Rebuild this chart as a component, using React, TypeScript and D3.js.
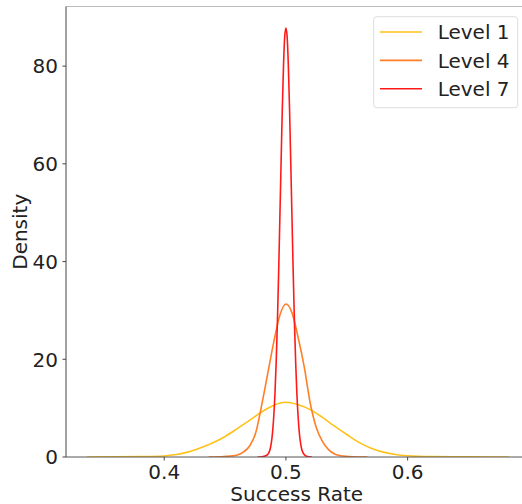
import React from 'react';
import * as d3 from 'd3';

// density curves (success rate, density)
const level1 = [
  [0.3366, 0.0], [0.36, 0.02], [0.38, 0.08], [0.40, 0.22], [0.41, 0.5], [0.42, 1.05],
  [0.43, 1.9], [0.44, 2.9], [0.45, 4.2], [0.46, 5.8], [0.47, 7.5], [0.48, 9.2],
  [0.49, 10.6], [0.50, 11.2], [0.51, 10.7], [0.52, 9.7], [0.53, 8.1], [0.54, 6.3],
  [0.55, 4.6], [0.56, 3.0], [0.57, 1.8], [0.58, 1.0], [0.59, 0.5], [0.60, 0.25],
  [0.62, 0.08], [0.65, 0.02], [0.683, 0.0],
];
const level4 = [
  [0.4365, 0.0], [0.445, 0.05], [0.455, 0.2], [0.46, 0.4], [0.465, 1.0], [0.47, 2.2],
  [0.475, 4.8], [0.48, 10.5], [0.485, 17], [0.49, 23.5], [0.495, 29], [0.50, 31.3],
  [0.505, 29.5], [0.51, 24.5], [0.515, 18.5], [0.52, 11], [0.525, 6.0], [0.53, 3.2],
  [0.535, 1.5], [0.54, 0.6], [0.545, 0.25], [0.555, 0.06], [0.567, 0.0],
];
const level7 = [
  [0.4767, 0.0], [0.480, 0.05], [0.483, 0.2], [0.485, 0.5], [0.486, 0.9], [0.487, 1.6],
  [0.488, 2.9], [0.489, 5.0], [0.490, 8.3], [0.491, 13], [0.492, 19.4], [0.493, 27.6],
  [0.494, 37.6], [0.495, 48.7], [0.496, 60], [0.497, 71], [0.498, 80], [0.499, 86],
  [0.500, 87.8], [0.501, 86], [0.502, 80], [0.503, 71], [0.504, 60], [0.505, 48.7],
  [0.506, 37.6], [0.507, 27.6], [0.508, 19.4], [0.509, 13], [0.510, 8.3], [0.511, 5.0],
  [0.512, 2.9], [0.513, 1.6], [0.514, 0.9], [0.515, 0.5], [0.517, 0.15], [0.5213, 0.0],
];

const seriesNames = ['Level 1', 'Level 4', 'Level 7'];
const seriesData = [level1, level4, level7];
const colors = ['#ffc21a', '#ff7f27', '#ff1a1a'];
const xTicks = [0.4, 0.5, 0.6];
const yTicks = [0, 20, 40, 60, 80];

const W = 522, H = 504;
const left = 66, right = 529.7, top = 6.5, bottom = 457;
const font = 'DejaVu Sans, sans-serif';
const fs = 20;

export default function App() {
  const x = d3.scaleLinear().domain([0.3193, 0.7003]).range([left, right]);
  const y = d3.scaleLinear().domain([0, 92.2]).range([bottom, top]);
  const line = d3.line<number[]>()
    .x(d => x(d[0]))
    .y(d => y(d[1]))
    .curve(d3.curveMonotoneX);

  return (
    <svg width={W} height={H} style={{ position: 'absolute', left: 0, top: 0, background: '#fff' }}
      fontFamily={font}>
      <defs>
        <clipPath id="plot">
          <rect x={left} y={top} width={right - left} height={bottom - top} />
        </clipPath>
      </defs>
      <g clipPath="url(#plot)">
        {seriesData.map((s, i) => (
          <path key={i} d={line(s) || ''} fill="none" stroke={colors[i]} strokeWidth={1.6} />
        ))}
      </g>

      {/* spines */}
      <line x1={left} x2={W} y1={top} y2={top} stroke="#bbb" strokeWidth={1} />
      <line x1={left} x2={left} y1={top} y2={bottom} stroke="#444" strokeWidth={1} />
      <line x1={left} x2={W} y1={bottom} y2={bottom} stroke="#555" strokeWidth={1} />

      {/* x ticks */}
      {xTicks.map(t => (
        <g key={t} transform={`translate(${x(t)},${bottom})`}>
          <line y1={0} y2={3.5} stroke="#444" />
          <text y={22} textAnchor="middle" fontSize={fs} fill="#222">{t.toFixed(1)}</text>
        </g>
      ))}
      {/* y ticks */}
      {yTicks.map(t => (
        <g key={t} transform={`translate(${left},${y(t)})`}>
          <line x1={-3.5} x2={0} stroke="#444" />
          <text x={-8} y={7.3} textAnchor="end" fontSize={fs} fill="#222">{t}</text>
        </g>
      ))}

      <text x={296.7} y={501.3} textAnchor="middle" fontSize={fs} fill="#222">Success Rate</text>
      <text transform={`translate(27.3,${(top + bottom) / 2}) rotate(-90)`} textAnchor="middle"
        fontSize={fs} fill="#222">Density</text>

      {/* legend */}
      <rect x={373.7} y={16.7} width={144} height={91} rx={3} fill="#fff" fillOpacity={0.8}
        stroke="#ddd" />
      {seriesNames.map((n, i) => (
        <g key={n} transform={`translate(380,${32 + i * 28.35})`}>
          <line x1={0} x2={42} stroke={colors[i]} strokeWidth={1.6} />
          <text x={57.7} y={7.3} fontSize={fs} fill="#222">{n}</text>
        </g>
      ))}
    </svg>
  );
}
